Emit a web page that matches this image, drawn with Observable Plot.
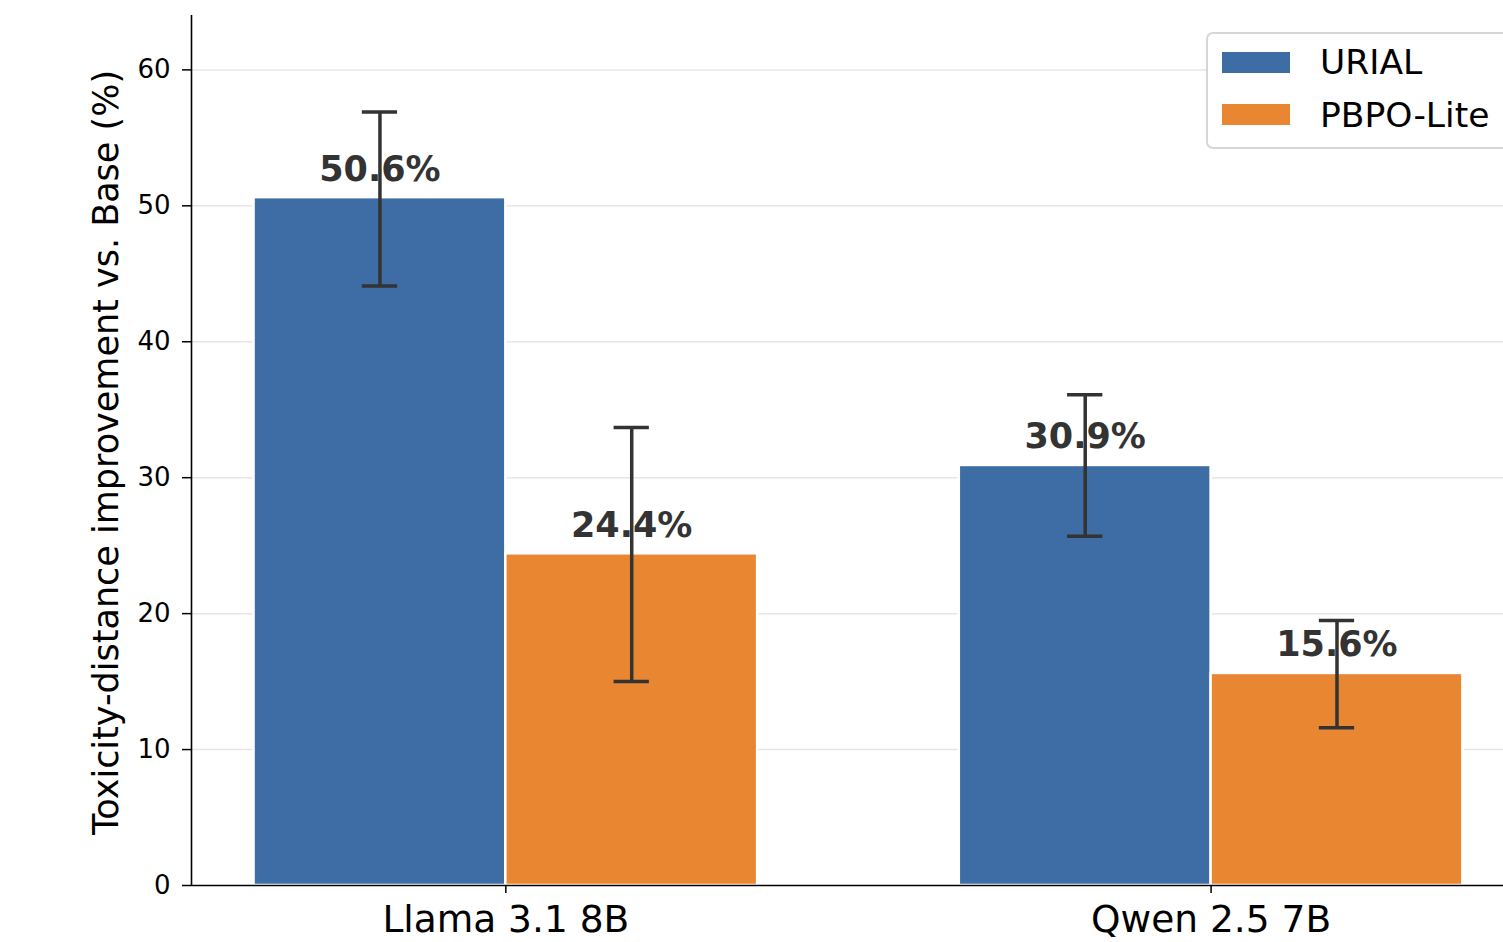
<!DOCTYPE html>
<html><head><meta charset="utf-8">
<script src="https://cdn.jsdelivr.net/npm/d3@7"></script>
<script src="https://cdn.jsdelivr.net/npm/@observablehq/plot@0.6"></script>
<style>
body{margin:0;background:#fff;}
#wrap{width:1503px;height:942px;overflow:hidden;}
svg{font-family:"DejaVu Sans",sans-serif;}
</style>
</head><body><div id="wrap"></div>
<script>
const models = ["Llama 3.1 8B", "Qwen 2.5 7B"];
const methods = ["URIAL", "PBPO-Lite"];
const urialValues = [50.6, 30.9];
const urialErrLow = [44.1, 25.7];
const urialErrHigh = [56.9, 36.1];
const pbpoValues = [24.4, 15.6];
const pbpoErrLow = [15.0, 11.6];
const pbpoErrHigh = [33.7, 19.5];
const yTicks = [0, 10, 20, 30, 40, 50, 60];
const yLabel = "Toxicity-distance improvement vs. Base (%)";
const colors = ["#3d6da4", "#e88632"];

const barW = 0.357;
const capHalf = 0.025;
const xDomain = [-0.4457, 1.4146];

const rows = [];
models.forEach((m, i) => {
  rows.push({model: m, i, method: methods[0], value: urialValues[i], lo: urialErrLow[i], hi: urialErrHigh[i], x1: i - barW, x2: i, xc: i - barW / 2});
  rows.push({model: m, i, method: methods[1], value: pbpoValues[i], lo: pbpoErrLow[i], hi: pbpoErrHigh[i], x1: i, x2: i + barW, xc: i + barW / 2});
});

const chart = Plot.plot({
  width: 1503,
  height: 942,
  marginLeft: 191,
  marginRight: 0,
  marginTop: 15,
  marginBottom: 57,
  style: {fontFamily: "DejaVu Sans, sans-serif", color: "black", background: "white"},
  x: {domain: xDomain, axis: null},
  y: {domain: [0, 64], axis: null},
  color: {domain: methods, range: colors},
  marks: [
    Plot.gridY({ticks: yTicks.slice(1), stroke: "#e6e6e6", strokeOpacity: 1, strokeWidth: 1.5}),
    Plot.rect(rows, {x1: "x1", x2: "x2", y1: 0, y2: "value", fill: "method", stroke: "white", strokeWidth: 2.5}),
    Plot.text(rows, {x: "xc", y: "value", text: d => d.value.toFixed(1) + "%", dy: -17, lineAnchor: "bottom", fontWeight: "bold", fontSize: 35, fill: "#333333"}),
    Plot.ruleX(rows, {x: "xc", y1: "lo", y2: "hi", stroke: "#333333", strokeWidth: 3.5}),
    Plot.ruleY(rows, {y: "hi", x1: d => d.xc - capHalf, x2: d => d.xc + capHalf, stroke: "#333333", strokeWidth: 3.5}),
    Plot.ruleY(rows, {y: "lo", x1: d => d.xc - capHalf, x2: d => d.xc + capHalf, stroke: "#333333", strokeWidth: 3.5}),
    Plot.ruleY([0], {stroke: "black", strokeWidth: 1.6}),
    Plot.ruleX([xDomain[0]], {stroke: "black", strokeWidth: 1.6}),
    Plot.axisY({ticks: yTicks, tickSize: 9, tickPadding: 12, fontSize: 26, label: null, stroke: "black", strokeWidth: 1.5, fill: "black"}),
    Plot.axisX({ticks: [0, 1], tickFormat: i => models[i], tickSize: 8, tickPadding: 12, fontSize: 37.5, label: null, stroke: "black", strokeWidth: 1.5, fill: "black"}),
    Plot.text([yLabel], {frameAnchor: "left", textAnchor: "middle", rotate: -90, dx: -85, dy: 2, fontSize: 35, fill: "black"})
  ]
});

// legend inside the plot area
const svg = d3.select(chart);
const lg = svg.append("g").attr("text-anchor", "start");
lg.append("rect").attr("x", 1207).attr("y", 33).attr("width", 330).attr("height", 115)
  .attr("rx", 6).attr("fill", "white").attr("stroke", "#d6d6d6").attr("stroke-width", 2);
methods.forEach((m, k) => {
  lg.append("rect").attr("x", 1222).attr("y", 52 + k * 52).attr("width", 68).attr("height", 21).attr("fill", colors[k]);
  lg.append("text").attr("x", 1320).attr("y", 74 + k * 53).attr("font-size", 34.5).attr("text-anchor", "start").attr("fill", "black").text(m);
});

document.getElementById("wrap").appendChild(chart);
</script>
</body></html>
